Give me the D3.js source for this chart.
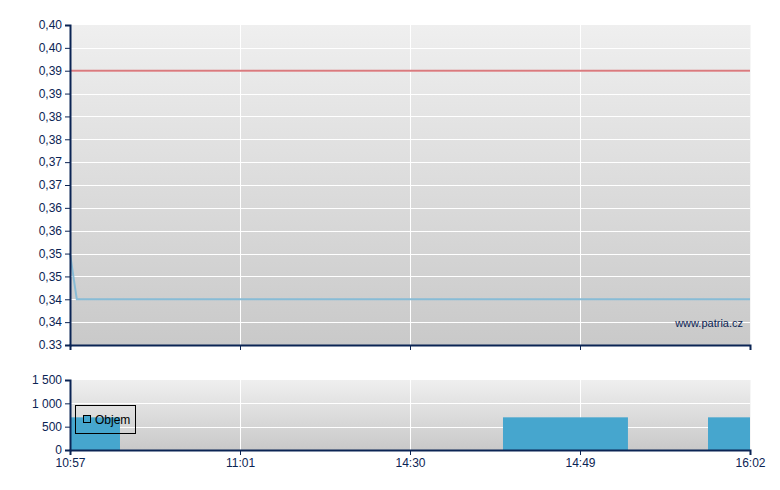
<!DOCTYPE html>
<html><head><meta charset="utf-8">
<script src="https://cdn.jsdelivr.net/npm/d3@7"></script>
<style>body{margin:0;background:#fff}svg{display:block;font-family:Arial,"Liberation Sans",sans-serif}</style>
</head><body><svg id="c" width="780" height="490"></svg>
<script>
// ---- data ----
const timeLabels = ["10:57","11:01","14:30","14:49","16:02"];      // x tick labels (positions 0..4)
const priceTicks = [0.330,0.335,0.340,0.345,0.350,0.355,0.360,0.365,0.370,0.375,0.380,0.385,0.390,0.395,0.400];
const priceTickLabels = ["0.33","0,34","0,34","0,35","0,35","0,36","0,36","0,37","0,37","0,38","0,38","0,39","0,39","0,40","0,40"];
const pricePos = [0, 0.04, 4];          // x positions of price points
const priceVal = [0.350, 0.340, 0.340]; // price series
const refPrice = 0.390;                 // red reference line
const volTicks = [0, 500, 1000, 1500];
const volTickLabels = ["0","500","1 000","1 500"];
const volStart = [0, 2.547, 3.753];     // bar start positions
const volEnd   = [0.294, 3.282, 4];     // bar end positions
const volVal   = [700, 700, 700];       // volume
const legendLabel = "Objem";
const watermark = "www.patria.cz";

// ---- layout ----
const svg = d3.select("#c");
const L = 70, R = 750;
const top1 = 25, bot1 = 345, top2 = 380, bot2 = 450;
const axisColor = "#0b2454";
const x = d3.scaleLinear().domain([0,4]).range([L,R]);
const y1 = d3.scaleLinear().domain([0.33,0.40]).range([bot1,top1]);
const y2 = d3.scaleLinear().domain([0,1500]).range([bot2,top2]);

const defs = svg.append("defs");
const g = defs.append("linearGradient").attr("id","bg").attr("x1",0).attr("y1",0).attr("x2",0).attr("y2",1);
g.append("stop").attr("offset","0%").attr("stop-color","#efefef");
g.append("stop").attr("offset","100%").attr("stop-color","#c9c9c9");

function panel(top, bot, y, ticks) {
  svg.append("rect").attr("x",L).attr("y",top).attr("width",R-L).attr("height",bot-top).attr("fill","url(#bg)");
  svg.append("g").selectAll("line").data(ticks.slice(1,-1)).join("line")
    .attr("x1",L).attr("x2",R).attr("y1",d=>Math.round(y(d))+0.5).attr("y2",d=>Math.round(y(d))+0.5)
    .attr("stroke","#fff").attr("stroke-width",1);
  svg.append("g").selectAll("line").data([1,2,3]).join("line")
    .attr("x1",d=>x(d)+0.5).attr("x2",d=>x(d)+0.5).attr("y1",top).attr("y2",bot)
    .attr("stroke","#fff").attr("stroke-width",1);
  svg.append("line").attr("x1",R+0.5).attr("x2",R+0.5).attr("y1",top).attr("y2",bot).attr("stroke","#f6f6f6");
}
panel(top1, bot1, y1, priceTicks);
panel(top2, bot2, y2, volTicks);

// price lines
svg.append("line").attr("x1",L).attr("x2",R).attr("y1",y1(refPrice)).attr("y2",y1(refPrice))
  .attr("stroke","#d97a7e").attr("stroke-width",2);
const line = d3.line().x(d=>x(d[0])).y(d=>y1(d[1]));
svg.append("path").datum(pricePos.map((p,i)=>[p,priceVal[i]])).attr("d",line)
  .attr("fill","none").attr("stroke","#88bcd6").attr("stroke-width",2);

// volume bars
svg.append("g").selectAll("rect").data(volVal).join("rect")
  .attr("x",(d,i)=>x(volStart[i])).attr("width",(d,i)=>x(volEnd[i])-x(volStart[i]))
  .attr("y",d=>y2(d)).attr("height",d=>bot2-y2(d)).attr("fill","#46a6ce");

// axes
function styleAxis(sel){
  sel.selectAll("path.domain").attr("stroke",axisColor).attr("stroke-width",2);
  sel.selectAll(".tick line").attr("stroke",axisColor);
  sel.selectAll("text").attr("fill",axisColor).style("font-size","12px").style("font-family","Arial,'Liberation Sans',sans-serif");
}
const ya1 = svg.append("g").attr("transform",`translate(${L},0)`)
  .call(d3.axisLeft(y1).tickValues(priceTicks).tickFormat((d,i)=>priceTickLabels[i]).tickSizeOuter(0).tickSize(5).tickPadding(3));
styleAxis(ya1);
const ya2 = svg.append("g").attr("transform",`translate(${L},0)`)
  .call(d3.axisLeft(y2).tickValues(volTicks).tickFormat((d,i)=>volTickLabels[i]).tickSizeOuter(0).tickSize(5).tickPadding(3));
styleAxis(ya2);
ya2.selectAll(".tick text").filter(d=>d===0).attr("dy","0.25em");
const xa1 = svg.append("g").attr("transform",`translate(0,${bot1})`)
  .call(d3.axisBottom(x).tickValues([0,1,2,3,4]).tickFormat("").tickSizeOuter(0).tickSize(5));
styleAxis(xa1);
const xa2 = svg.append("g").attr("transform",`translate(0,${bot2})`)
  .call(d3.axisBottom(x).tickValues([0,1,2,3,4]).tickFormat((d,i)=>timeLabels[i]).tickSizeOuter(0).tickSize(5).tickPadding(3));
styleAxis(xa2);

// watermark
svg.append("text").attr("x",R-7).attr("y",327).attr("text-anchor","end")
  .attr("fill",axisColor).style("font-size","11px").text(watermark);

// legend
const lg = svg.append("g");
lg.append("rect").attr("x",75.5).attr("y",405.5).attr("width",60).attr("height",28).attr("fill","none").attr("stroke","#000");
lg.append("rect").attr("x",83.5).attr("y",415.5).attr("width",7).attr("height",7).attr("fill","#46a6ce").attr("stroke","#000");
lg.append("text").attr("x",95).attr("y",424).attr("fill","#000").style("font-size","12px").text(legendLabel);
</script></body></html>
